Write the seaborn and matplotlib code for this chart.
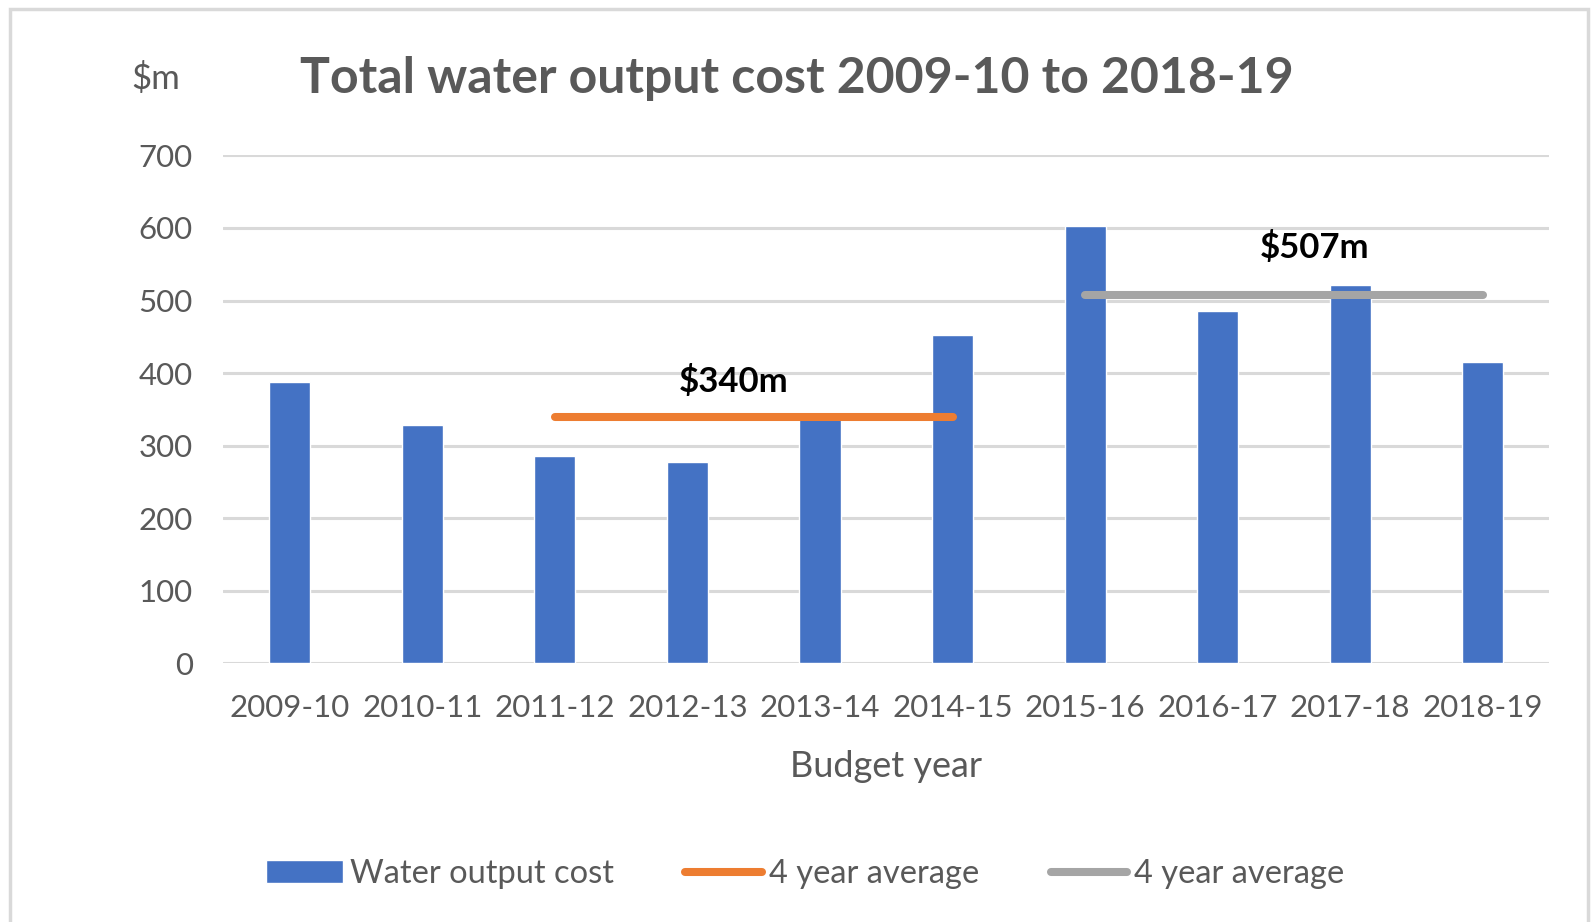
import matplotlib
matplotlib.use('Agg')
import matplotlib.pyplot as plt
import matplotlib.patches as patches
import seaborn as sb
import pandas as pd

# Chart data

years = ['2009-10', '2010-11', '2011-12', '2012-13', '2013-14',
         '2014-15', '2015-16', '2016-17', '2017-18', '2018-19']
costs = [388, 328, 286, 277, 343, 452, 602, 486, 521, 415]

avg_starts = ['2011-12', '2015-16']
avg_ends = ['2014-15', '2018-19']
avg_values = [340, 507]
avg_labels = ['$340m', '$507m']
avg_colors = ['#ED7D31', '#A5A5A5']
label_x = [3.35, 7.73]
label_y = [389, 573]

yticks = [0, 100, 200, 300, 400, 500, 600, 700]

df = pd.DataFrame({'year': years, 'cost': costs})

sb.set_style('white')
plt.rcParams['font.family'] = ['Lato', 'DejaVu Sans']

grey_text = '#595959'

fig = plt.figure(figsize=(15.93, 9.22), dpi=100)
ax = fig.add_axes([0.1403, 0.2804, 0.8321, 0.5511])

# Gridlines behind bars
for v in yticks:
    ax.axhline(v, color='#d9d9d9', linewidth=2.2, zorder=0)

sb.barplot(data=df, x='year', y='cost', color='#4472C4', width=0.31,
           saturation=1, ax=ax, zorder=2, label='Water output cost')

# 4 year average lines
line_handles = []
for start, end, val, col in zip(avg_starts, avg_ends, avg_values, avg_colors):
    x0 = years.index(start)
    x1 = years.index(end)
    ln, = ax.plot([x0, x1], [val, val], color=col, linewidth=5.8,
                  solid_capstyle='round', zorder=3, label='4 year average')
    line_handles.append(ln)

for lbl, x, y in zip(avg_labels, label_x, label_y):
    ax.text(x, y, lbl, ha='center', va='center', fontsize=25,
            fontweight='bold', color='black', zorder=4)

ax.set_ylim(0, 700)
ax.set_xlim(-0.5, len(years) - 0.5)
ax.set_yticks(yticks)
ax.set_yticklabels([str(t) for t in yticks])
for s in ax.spines.values():
    s.set_visible(False)
ax.tick_params(axis='both', length=0, labelsize=22.5, colors=grey_text)
ax.tick_params(axis='x', pad=22)
ax.tick_params(axis='y', pad=22)
ax.set_xlabel('Budget year', fontsize=26, color=grey_text, labelpad=20)
ax.set_ylabel('')

fig.text(0.098, 0.915, '$m', fontsize=25, color=grey_text, ha='center', va='center')
fig.text(0.5, 0.915, 'Total water output cost 2009-10 to 2018-19',
         fontsize=36, fontweight='bold', color=grey_text, ha='center', va='center')

# Legend: bars first, then the two average lines
bar_handle = ax.containers[0]
ax.legend([bar_handle] + line_handles,
          ['Water output cost', '4 year average', '4 year average'],
          loc='center', bbox_to_anchor=(0.5055, 0.052),
          bbox_transform=fig.transFigure, ncol=3, frameon=False,
          fontsize=23.5, handlelength=2.35, handletextpad=0.2,
          columnspacing=2.2, labelcolor=grey_text)

# Light frame round the chart area
fig.patches.append(patches.Rectangle((0.0065, -0.05), 0.9905, 1.04,
                                     transform=fig.transFigure, fill=False,
                                     edgecolor='#d9d9d9', linewidth=2.5))

fig.savefig('out.png', dpi=100)
